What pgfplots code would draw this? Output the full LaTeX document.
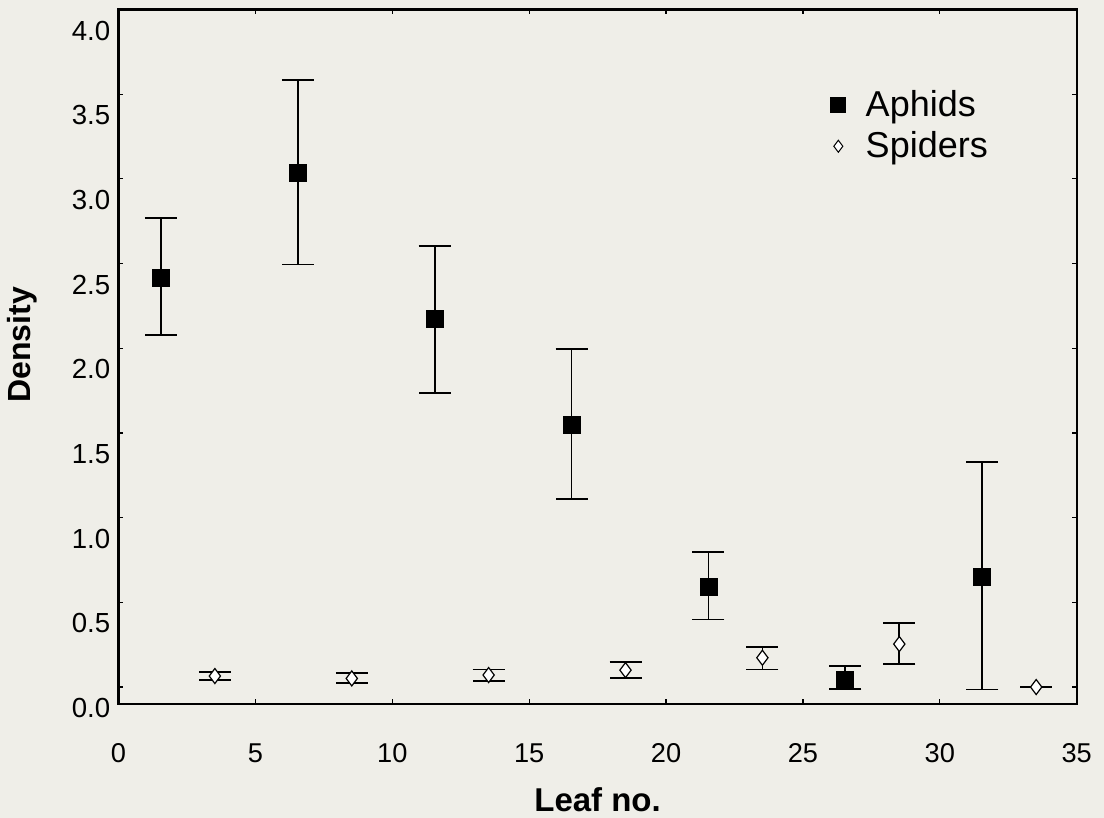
\documentclass[border=0pt]{standalone}
\usepackage{fontspec}
\setmainfont{Liberation Sans}
\usepackage{pgfplots}
\pgfplotsset{compat=1.18}
\usetikzlibrary{backgrounds}
\definecolor{bg}{RGB}{239,238,232}

\pgfplotstableread{
x y ep em
1.55 2.415 0.356 0.338
6.55 3.034 0.551 0.540
11.55 2.171 0.435 0.435
16.55 1.546 0.452 0.435
21.55 0.592 0.206 0.193
26.55 0.045 0.077 0.055
31.55 0.651 0.676 0.665
}\aphids

\pgfplotstableread{
x y ep em
3.52 0.065 0.025 0.024
8.52 0.051 0.030 0.026
13.52 0.071 0.033 0.036
18.52 0.100 0.049 0.045
23.52 0.173 0.065 0.069
28.52 0.254 0.122 0.118
33.52 0.000 0.000 0.000
}\spiders

\begin{document}
\begin{tikzpicture}
\begin{axis}[name=ax, scale only axis, width=479.1pt, height=347.25pt,
  xmin=0, xmax=35, ymin=-0.1, ymax=4.0,
  xtick={0,5,...,35}, ytick={0,0.5,...,4},
  tick align=inside, major tick length=2.5pt,
  axis line style={line width=1.1pt},
  tick style={line width=0.6pt, black},
  /pgf/number format/assume math mode=true,
  yticklabel style={/pgf/number format/fixed, /pgf/number format/fixed zerofill,
    /pgf/number format/precision=1, font=\fontsize{13.8}{14}\selectfont, xshift=-0.6pt, yshift=-10.5pt},
  xticklabel style={font=\fontsize{13.6}{14}\selectfont, anchor=base, yshift=-29.5pt},
  xlabel={Leaf no.}, ylabel={Density},
  xlabel style={at={(axis description cs:0.5,-0.138)}, anchor=center, font=\fontsize{16.5}{18}\selectfont\bfseries},
  ylabel style={at={(axis description cs:-0.1007,0.517)}, anchor=center, font=\fontsize{16}{18}\selectfont\bfseries},
  legend style={draw=none, fill=none, at={(axis cs:25.68,3.534)}, anchor=north west,
    font=\fontsize{18}{20}\selectfont, inner sep=0pt, row sep=3.9pt, nodes={inner ysep=1pt}},
  legend cell align=left,
  error bars/error bar style={line width=0.9pt, black},
  error bars/error mark options={line width=0.9pt, black, mark size=8pt, rotate=90},
]
\addplot[only marks, mark=square*, mark size=4.25pt, black, forget plot,
  error bars/.cd, y dir=both, y explicit]
  table[x=x, y=y, y error plus=ep, y error minus=em] {\aphids};
\addplot[only marks, mark=diamond*, mark size=3.75pt, mark options={fill=white, draw=black, line width=0.6pt}, forget plot,
  error bars/.cd, y dir=both, y explicit]
  table[x=x, y=y, y error plus=ep, y error minus=em] {\spiders};
\addlegendimage{legend image code/.code={\draw[black, fill=black] plot[mark=square*, mark size=3.75pt, only marks] coordinates {(8pt,0pt)}; \path (0pt,0pt) (19.5pt,0pt);}}
\addlegendentry{Aphids}
\addlegendimage{legend image code/.code={\draw[black, fill=white, line width=0.5pt] plot[mark=diamond*, mark size=3pt, only marks] coordinates {(8pt,0pt)}; \path (0pt,0pt) (19.5pt,0pt);}}
\addlegendentry{Spiders}
\end{axis}
\begin{scope}[on background layer]
\fill[bg] ([xshift=-59.25pt,yshift=-57pt]ax.south west) rectangle ([xshift=13.65pt,yshift=4.75pt]ax.north east);
\end{scope}
\pgfresetboundingbox
\path[use as bounding box] ([xshift=-59.25pt,yshift=-57pt]ax.south west) rectangle ([xshift=13.65pt,yshift=4.75pt]ax.north east);
\end{tikzpicture}
\end{document}
